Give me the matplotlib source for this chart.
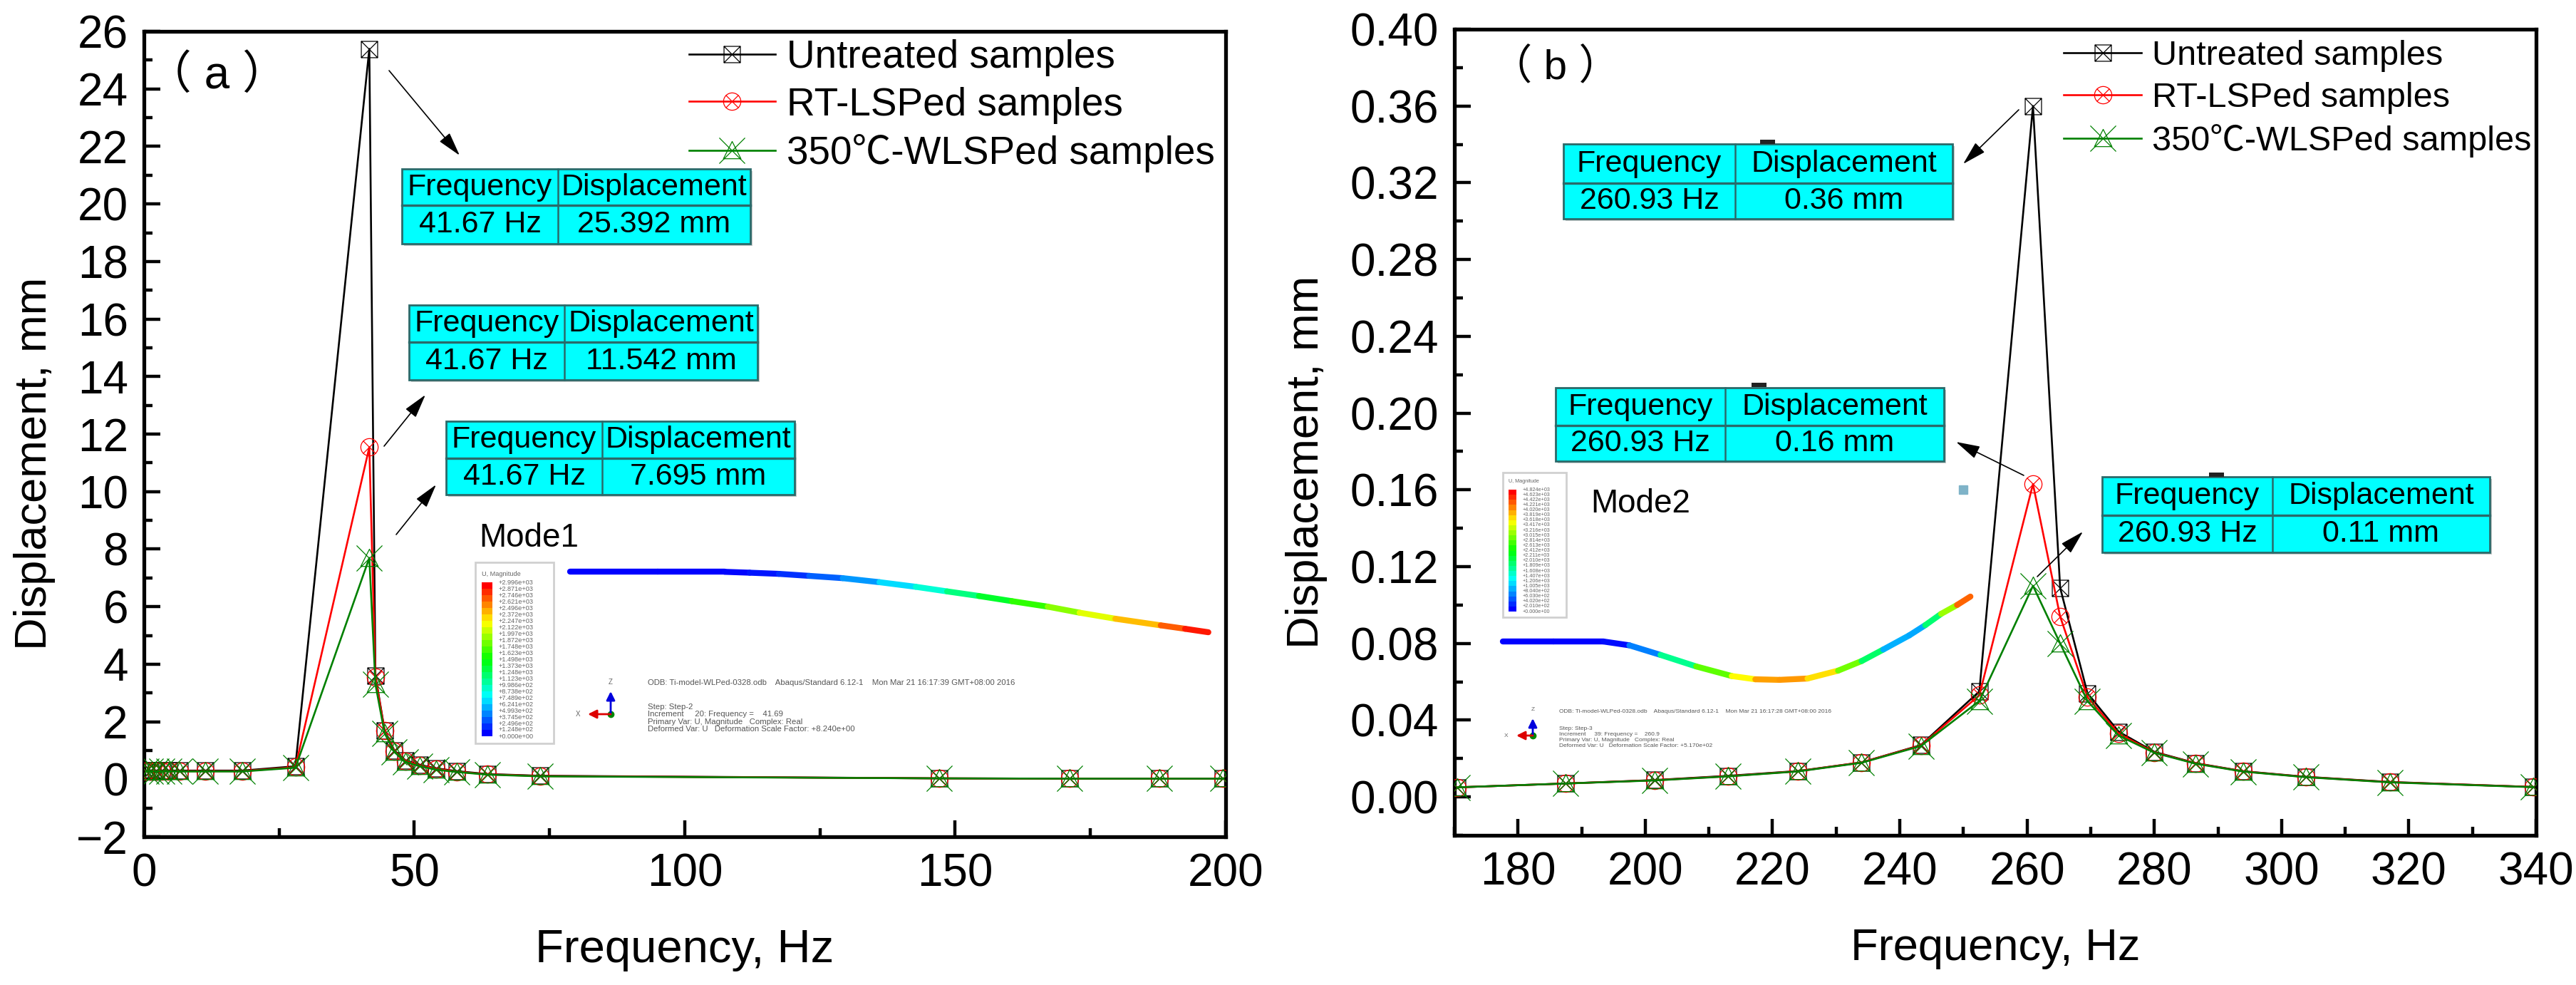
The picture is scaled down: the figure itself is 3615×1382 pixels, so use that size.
import numpy as np
import matplotlib
matplotlib.use("Agg")
import matplotlib.pyplot as plt
from matplotlib.collections import LineCollection
from matplotlib.colors import LinearSegmentedColormap
from matplotlib.path import Path
from matplotlib.patches import Rectangle
from matplotlib.ticker import MultipleLocator

plt.rcParams['font.family'] = ['Liberation Sans', 'Noto Sans CJK SC', 'DejaVu Sans']

W, H = 3616, 1382

# panel (a) data
freq_a = [0.4, 1.2, 2.2, 3.3, 4.6, 6.6, 11.3, 18.2, 28, 41.67, 42.8, 44.5, 46.3, 48.4, 51, 54, 57.9, 63.5, 73.3, 147, 171.2, 187.8, 199.5]
untreated_a = [0.3, 0.3, 0.3, 0.3, 0.3, 0.3, 0.3, 0.3, 0.45, 25.392, 3.6, 1.7, 1.0, 0.65, 0.5, 0.38, 0.28, 0.18, 0.12, 0.03, 0.02, 0.02, 0.02]
rt_a = [0.28, 0.28, 0.28, 0.28, 0.28, 0.28, 0.28, 0.28, 0.42, 11.542, 3.55, 1.68, 0.98, 0.63, 0.48, 0.36, 0.26, 0.17, 0.11, 0.03, 0.02, 0.02, 0.02]
wlsp_a = [0.27, 0.27, 0.27, 0.27, 0.27, 0.27, 0.27, 0.27, 0.4, 7.695, 3.3, 1.6, 0.95, 0.6, 0.45, 0.33, 0.25, 0.16, 0.1, 0.03, 0.02, 0.02, 0.02]

# panel (b) data
freq_b = [170.5, 187.5, 201.5, 213, 224, 234, 243.3, 252.5, 260.93, 265.2, 269.5, 274.4, 280, 286.5, 294, 303.8, 317, 339.5]
untreated_b = [0.005, 0.007, 0.0088, 0.011, 0.0135, 0.018, 0.027, 0.055, 0.36, 0.109, 0.054, 0.034, 0.0235, 0.0176, 0.0134, 0.0105, 0.0078, 0.0052]
rt_b = [0.005, 0.007, 0.0087, 0.0108, 0.0134, 0.018, 0.0268, 0.053, 0.163, 0.094, 0.052, 0.033, 0.0232, 0.0175, 0.0133, 0.0104, 0.0077, 0.0052]
wlsp_b = [0.005, 0.007, 0.0086, 0.0107, 0.0133, 0.0178, 0.0265, 0.05, 0.11, 0.08, 0.05, 0.032, 0.023, 0.0173, 0.0132, 0.0103, 0.0076, 0.0051]

series_names = ['Untreated samples', 'RT-LSPed samples', '350℃-WLSPed samples']

# deformed beam insets, x in Hz and y in mm like the host axes
beam1_x = [78.8, 95, 107.4, 112, 117.4, 123, 129.2, 136, 142.7, 148.5, 154.4, 160.5, 167.1, 173, 179.6, 188, 192.5, 196.8]
beam1_y = [7.21, 7.21, 7.21, 7.18, 7.14, 7.07, 6.99, 6.85, 6.69, 6.53, 6.37, 6.19, 6.0, 5.79, 5.58, 5.35, 5.23, 5.11]
beam1_u = [0, 0, 0, 0.01, 0.03, 0.07, 0.12, 0.18, 0.25, 0.33, 0.42, 0.5, 0.59, 0.68, 0.76, 0.87, 0.95, 1]
beam2_x = [177.6, 185.6, 193.4, 197.5, 202.4, 208, 213.6, 217.3, 221.1, 225.5, 230.3, 234, 237.4, 241.5, 244, 246.5, 249, 251.1]
beam2_y = [0.081, 0.081, 0.081, 0.079, 0.074, 0.068, 0.063, 0.0613, 0.061, 0.0617, 0.0658, 0.0708, 0.0768, 0.0842, 0.0895, 0.0954, 0.1, 0.1044]
beam2_u = [0, 0, 0, 0.03, 0.22, 0.5, 0.68, 0.82, 0.86, 0.84, 0.72, 0.5, 0.3, 0.05, 0.28, 0.5, 0.8, 1]

legend_mode1 = ['+2.996e+03', '+2.871e+03', '+2.746e+03', '+2.621e+03', '+2.496e+03', '+2.372e+03', '+2.247e+03', '+2.122e+03',
                '+1.997e+03', '+1.872e+03', '+1.748e+03', '+1.623e+03', '+1.498e+03', '+1.373e+03', '+1.248e+03', '+1.123e+03',
                '+9.986e+02', '+8.738e+02', '+7.489e+02', '+6.241e+02', '+4.993e+02', '+3.745e+02', '+2.496e+02', '+1.248e+02', '+0.000e+00']
legend_mode2 = ['+4.824e+03', '+4.623e+03', '+4.422e+03', '+4.221e+03', '+4.020e+03', '+3.819e+03', '+3.618e+03', '+3.417e+03',
                '+3.216e+03', '+3.015e+03', '+2.814e+03', '+2.613e+03', '+2.412e+03', '+2.211e+03', '+2.010e+03', '+1.809e+03',
                '+1.608e+03', '+1.407e+03', '+1.206e+03', '+1.005e+03', '+8.040e+02', '+6.030e+02', '+4.020e+02', '+2.010e+02', '+0.000e+00']

# table boxes: left, right, top, bottom, column split, row split (pixels)
tables = [
    (564, 1053, 237, 342, 783, 288, '41.67 Hz', '25.392 mm'),
    (574, 1063, 428, 533, 792, 480, '41.67 Hz', '11.542 mm'),
    (626, 1115, 591, 694, 845, 643, '41.67 Hz', '7.695 mm'),
    (2194, 2740, 202, 307, 2435, 257, '260.93 Hz', '0.36 mm'),
    (2183, 2728, 544, 647, 2421, 597, '260.93 Hz', '0.16 mm'),
    (2950, 3494, 669, 775, 3189, 723, '260.93 Hz', '0.11 mm'),
]
arrows = [
    ((546, 99), (645, 218)), ((539, 626), (597, 554)), ((556, 750), (612, 680)),
    ((2833, 154), (2755, 230)), ((2840, 667), (2745, 620)), ((2859, 809), (2923, 746)),
]

spectrum = LinearSegmentedColormap.from_list('abaqus', ['#0000ff', '#00ffff', '#00ff00', '#ffff00', '#ff0000'])


def cross_marker(base, arm=1.0):
    arms = [Path([(-arm, -arm), (arm, arm)]), Path([(-arm, arm), (arm, -arm)])]
    return Path.make_compound_path(base, *arms)


square_x = cross_marker(Path([(-1, -1), (1, -1), (1, 1), (-1, 1), (-1, -1)], closed=True))
circle_x = cross_marker(Path.unit_circle(), 0.72)
tri_x = cross_marker(Path([(0, 0.72), (-0.68, -0.62), (0.68, -0.62), (0, 0.72)], closed=True))
styles = [('black', square_x, 16.5), ('#ff0000', circle_x, 17.5), ('#008000', tri_x, 26)]


def beam(ax, xs, ys, us):
    pts = np.column_stack([xs, ys])
    segs = np.stack([pts[:-1], pts[1:]], axis=1)
    vals = (np.array(us[:-1]) + np.array(us[1:])) / 2
    lc = LineCollection(segs, cmap=spectrum, array=vals, linewidths=6, capstyle='round', zorder=1)
    lc.set_clim(0, 1)
    ax.add_collection(lc)


def draw_panel(ax, freq, ys, xlim, ylim, xmaj, xmin, ymaj, ymin, yfmt, label_size, label_x, legend):
    for y, name, (col, mk, ms) in zip(ys, series_names, styles):
        ax.plot(freq, y, color=col, lw=1.9, marker=mk, ms=ms, mfc='none', mew=0.9, label=name, zorder=3)
    ax.set_xlim(xlim)
    ax.set_ylim(ylim)
    ax.xaxis.set_major_locator(MultipleLocator(xmaj))
    ax.xaxis.set_minor_locator(MultipleLocator(xmin))
    ax.yaxis.set_major_locator(MultipleLocator(ymaj))
    ax.yaxis.set_minor_locator(MultipleLocator(ymin))
    ax.yaxis.set_major_formatter(yfmt)
    ax.tick_params(which='major', direction='in', length=16.5, width=3.2, labelsize=46, pad=16)
    ax.tick_params(which='minor', direction='in', length=8.5, width=3.2)
    for s in ax.spines.values():
        s.set_linewidth(3.8)
    ax.set_xlabel('Frequency, Hz', fontsize=label_size, labelpad=34)
    ax.set_ylabel('Displacement, mm', fontsize=45.5)
    ax.yaxis.set_label_coords(label_x, 0.463)
    ax.legend(loc='upper left', frameon=False, handletextpad=0.3, borderpad=0, borderaxespad=0, **legend)


fig = plt.figure(figsize=(W / 100, H / 100), dpi=100)
ax_a = fig.add_axes([202 / W, 1 - 1174 / H, (1720 - 202) / W, (1174 - 44) / H])
ax_b = fig.add_axes([2041 / W, 1 - 1172 / H, (3559 - 2041) / W, (1172 - 41) / H])

beam(ax_a, beam1_x, beam1_y, beam1_u)
beam(ax_b, beam2_x, beam2_y, beam2_u)
ax_b.plot([250], [0.16], 's', ms=8, color='#7fb3c8', zorder=2)

draw_panel(ax_a, freq_a, [untreated_a, rt_a, wlsp_a], (0, 200), (-2, 26), 50, 25, 2, 1, '{x:.0f}', 47, -0.082,
           dict(bbox_to_anchor=(0.504, 0.99), fontsize=39.5, handlelength=2.2, labelspacing=0.26))
draw_panel(ax_b, freq_b, [untreated_b, rt_b, wlsp_b], (170, 340), (-0.02, 0.40), 20, 10, 0.04, 0.02, '{x:.2f}', 45.5, -0.117,
           dict(bbox_to_anchor=(0.563, 0.987), fontsize=35, handlelength=2.26, labelspacing=0.29))
ax_a.set_xticks([0, 50, 100, 150, 200])
ax_b.set_xticks(np.arange(180, 341, 20))

# pixel overlay for annotations
ov = fig.add_axes([0, 0, 1, 1], zorder=5)
ov.set_xlim(0, W)
ov.set_ylim(H, 0)
ov.axis('off')

for (x0, x1, y0, y1, xs, ys, t1, t2) in tables:
    ov.add_patch(Rectangle((x0 + 3, y0 + 3), x1 - x0, y1 - y0, fc='#c8c8c8', ec='none'))
    ov.add_patch(Rectangle((x0, y0), x1 - x0, y1 - y0, fc='#00ffff', ec='#2a6a6a', lw=2))
    ov.plot([xs, xs], [y0, y1], color='#2a6a6a', lw=1.8)
    ov.plot([x0, x1], [ys, ys], color='#2a6a6a', lw=2.4)
    ov.text((x0 + xs) / 2, (y0 + ys) / 2, 'Frequency', ha='center', va='center', fontsize=31)
    ov.text((xs + x1) / 2, (y0 + ys) / 2, 'Displacement', ha='center', va='center', fontsize=31)
    ov.text((x0 + xs) / 2, (ys + y1) / 2, t1, ha='center', va='center', fontsize=31)
    ov.text((xs + x1) / 2, (ys + y1) / 2, t2, ha='center', va='center', fontsize=31)

for (start, end) in arrows:
    ov.annotate('', xy=end, xytext=start,
                arrowprops=dict(arrowstyle='-|>,head_length=0.8,head_width=0.22', color='black', lw=1.2,
                                mutation_scale=26, shrinkA=0, shrinkB=0))

for (x0, y0, w, h) in [(2470, 196, 21, 6), (2458, 537, 21, 6), (3100, 663, 21, 6)]:
    ov.add_patch(Rectangle((x0, y0), w, h, fc='#222222', ec='none'))

ov.text(304, 106, '（ a ）', ha='center', va='center', fontsize=46)
ov.text(2183, 96, '（ b ）', ha='center', va='center', fontsize=42)
ov.text(672, 755, 'Mode1', ha='left', va='center', fontsize=33)
ov.text(2232, 707, 'Mode2', ha='left', va='center', fontsize=33)


def contour_legend(box, bar, labels, txt_x, fs):
    bx0, bx1, by0, by1 = box
    ov.add_patch(Rectangle((bx0, by0), bx1 - bx0, by1 - by0, fc='white', ec='#d0d0d0', lw=2))
    x0, x1, y0, y1 = bar
    n = len(labels) - 1
    h = (y1 - y0) / n
    for i in range(n):
        ov.add_patch(Rectangle((x0, y0 + i * h), x1 - x0, h, fc=spectrum(1 - i / (n - 1)), ec='none'))
    for i, lab in enumerate(labels):
        ov.text(txt_x, y0 + i * h, lab, fontsize=fs, color='#666666', ha='left', va='center')
    ov.text(x0, y0 - 12, 'U, Magnitude', fontsize=fs, color='#666666', ha='left', va='center')


contour_legend((667, 777, 789, 1043), (676, 691, 817, 1033), legend_mode1, 700, 6.6)
contour_legend((2109, 2198, 663, 866), (2117, 2128, 687, 858), legend_mode2, 2137, 5.2)


def triad(cx, cy, zlen, xlen, fs):
    ov.annotate('', xy=(cx, cy - zlen), xytext=(cx, cy),
                arrowprops=dict(arrowstyle='-|>', color='#0000dd', lw=2, mutation_scale=18, shrinkA=0, shrinkB=0))
    ov.annotate('', xy=(cx - xlen, cy), xytext=(cx, cy),
                arrowprops=dict(arrowstyle='-|>', color='#dd0000', lw=2, mutation_scale=18, shrinkA=0, shrinkB=0))
    ov.plot([cx], [cy], 'o', color='#008800', ms=6)
    ov.text(cx, cy - zlen - 13, 'Z', fontsize=fs, color='#666666', ha='center', va='center')
    ov.text(cx - xlen - 14, cy, 'X', fontsize=fs, color='#666666', ha='center', va='center')


triad(857, 1002, 32, 32, 7)
triad(2151, 1032, 24, 23, 6)

notes_a = ['ODB: Ti-model-WLPed-0328.odb    Abaqus/Standard 6.12-1    Mon Mar 21 16:17:39 GMT+08:00 2016',
           'Step: Step-2', 'Increment     20: Frequency =    41.69',
           'Primary Var: U, Magnitude   Complex: Real', 'Deformed Var: U   Deformation Scale Factor: +8.240e+00']
notes_b = ['ODB: Ti-model-WLPed-0328.odb    Abaqus/Standard 6.12-1    Mon Mar 21 16:17:28 GMT+08:00 2016',
           'Step: Step-3', 'Increment     39: Frequency =    260.9',
           'Primary Var: U, Magnitude   Complex: Real', 'Deformed Var: U   Deformation Scale Factor: +5.170e+02']
for notes, x, ys, fs in [(notes_a, 909, [958, 992, 1002, 1013, 1023], 8.2), (notes_b, 2188, [998, 1023, 1031, 1039, 1047], 6.0)]:
    for t, y in zip(notes, ys):
        ov.text(x, y, t, fontsize=fs, color='#555555', ha='left', va='center')

fig.savefig('out.png', dpi=100)
